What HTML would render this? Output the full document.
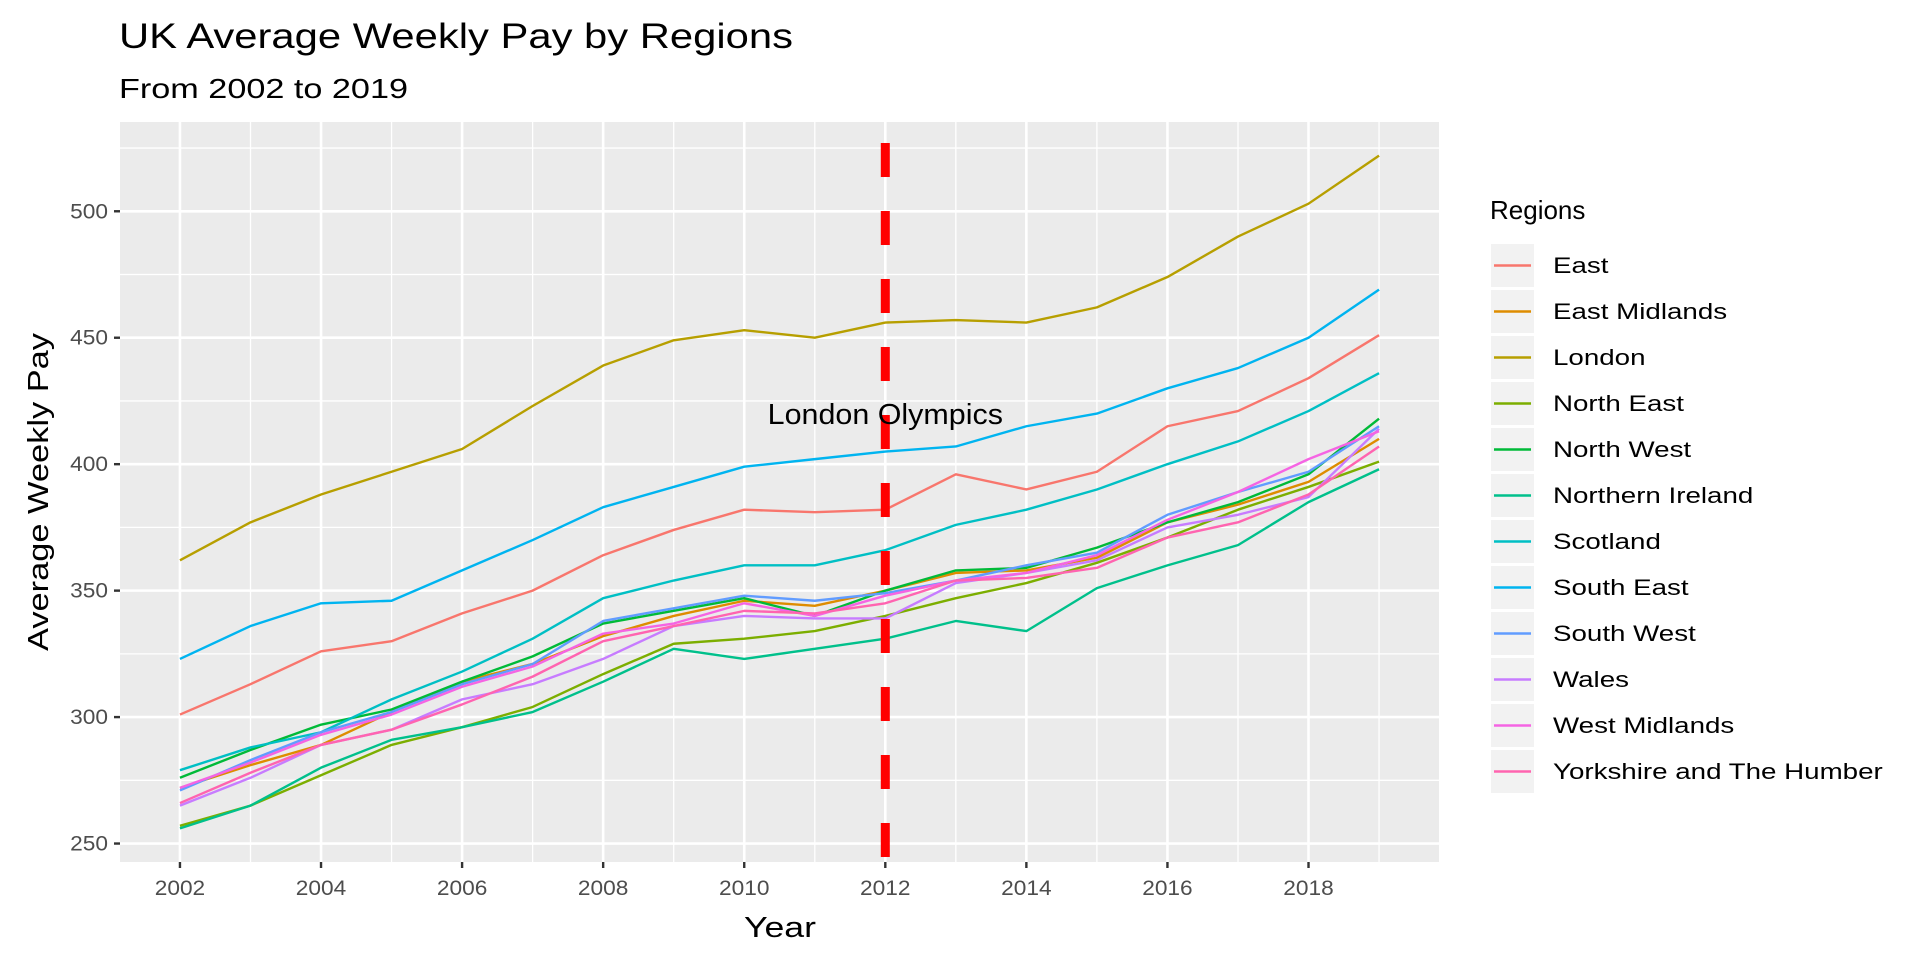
<!DOCTYPE html>
<html><head><meta charset="utf-8"><style>
body{margin:0;background:#fff;font-family:"Liberation Sans",Arial,sans-serif;}
svg text{font-family:"Liberation Sans",Arial,sans-serif;}
</style></head><body>
<svg id="chart" width="1920" height="960" xmlns="http://www.w3.org/2000/svg">
<rect width="1920" height="960" fill="#fff"/>
<text x="119" y="48" font-size="35" fill="#000" textLength="674" lengthAdjust="spacingAndGlyphs">UK Average Weekly Pay by Regions</text>
<text x="119" y="98" font-size="28" fill="#000" textLength="289" lengthAdjust="spacingAndGlyphs">From 2002 to 2019</text>
<rect x="120" y="122" width="1319" height="740" fill="#EBEBEB"/>
<g id="grid"></g>
<g id="series"></g>
<g id="axes"></g>
<text transform="translate(48,492) rotate(-90)" text-anchor="middle" font-size="29" fill="#000" textLength="318" lengthAdjust="spacingAndGlyphs">Average Weekly Pay</text>
<text x="780" y="937" text-anchor="middle" font-size="29" fill="#000" textLength="72" lengthAdjust="spacingAndGlyphs">Year</text>
<g id="legend"></g>
</svg>
<script>
const years = [2002,2003,2004,2005,2006,2007,2008,2009,2010,2011,2012,2013,2014,2015,2016,2017,2018,2019];
const regions = ["East","East Midlands","London","North East","North West","Northern Ireland","Scotland","South East","South West","Wales","West Midlands","Yorkshire and The Humber"];
const colors = ["#F8766D","#DE8C00","#B79F00","#7CAE00","#00BA38","#00C08B","#00BFC4","#00B4F0","#619CFF","#C77CFF","#F564E3","#FF64B0"];
const east = [301,313,326,330,341,350,364,374,382,381,382,396,390,397,415,421,434,451];
const eastMidlands = [272,281,289,302,314,321,332,340,346,344,350,357,358,363,377,384,393,410];
const london = [362,377,388,397,406,423,439,449,453,450,456,457,456,462,474,490,503,522];
const northEast = [257,265,277,289,296,304,317,329,331,334,340,347,353,361,371,382,391,401];
const northWest = [276,287,297,303,314,324,337,342,347,340,350,358,359,367,377,385,396,418];
const northernIreland = [256,265,280,291,296,302,314,327,323,327,331,338,334,351,360,368,385,398];
const scotland = [279,288,294,307,318,331,347,354,360,360,366,376,382,390,400,409,421,436];
const southEast = [323,336,345,346,358,370,383,391,399,402,405,407,415,420,430,438,450,469];
const southWest = [271,283,294,302,313,321,338,343,348,346,349,354,360,365,380,389,397,415];
const wales = [265,276,289,295,307,313,323,336,340,339,339,353,357,362,375,380,387,414];
const westMidlands = [272,282,293,301,312,320,333,337,345,340,348,354,357,364,378,389,402,413];
const yorkshire = [266,278,289,295,305,316,330,336,342,341,345,354,355,359,371,377,388,407];
const yTicks = [250,300,350,400,450,500];
const xTicks = [2002,2004,2006,2008,2010,2012,2014,2016,2018];
const eventYear = 2012;
const eventLabel = "London Olympics";

const seriesData = [east,eastMidlands,london,northEast,northWest,northernIreland,scotland,southEast,southWest,wales,westMidlands,yorkshire];
const NS="http://www.w3.org/2000/svg";
const L=120,R=1439,T=122,B=862;
const xMin=2002-0.85, xMax=2019+0.85;
const allV=seriesData.flat(); const vmin=Math.min(...allV), vmax=Math.max(...allV);
const pad=(vmax-vmin)*0.05; const yMin=vmin-pad, yMax=vmax+pad;
const x=v=>L+(v-xMin)/(xMax-xMin)*(R-L);
const y=v=>B-(v-yMin)/(yMax-yMin)*(B-T);
function mk(tag,attrs,parent){const e=document.createElementNS(NS,tag);for(const k in attrs)e.setAttribute(k,attrs[k]);parent.appendChild(e);return e;}
function stretch(t,f){const w=t.getComputedTextLength();t.setAttribute('textLength',w*f);t.setAttribute('lengthAdjust','spacingAndGlyphs');}
const grid=document.getElementById('grid'),axes=document.getElementById('axes'),ser=document.getElementById('series'),leg=document.getElementById('legend');
for(let i=0;i<yTicks.length+1;i++){const v=yTicks[0]-25+i*50; if(y(v)<T||y(v)>B)continue;
 const g=mk('line',{x1:L,x2:R,y1:y(v),y2:y(v),stroke:'#fff','stroke-width':1.3},grid);
 
 }
for(let i=0;i<xTicks.length+1;i++){const v=xTicks[0]-1+i*2; if(x(v)<L||x(v)>R)continue;
 const g=mk('line',{x1:x(v),x2:x(v),y1:T,y2:B,stroke:'#fff','stroke-width':1.3},grid);
 
 }
yTicks.forEach(v=>{
 const g=mk('line',{x1:L,x2:R,y1:y(v),y2:y(v),stroke:'#fff','stroke-width':2.6},grid);
 
 
 const t=mk('line',{x1:L-6,x2:L,y1:y(v),y2:y(v),stroke:'#333','stroke-width':2.4},axes);
 
 
 const tx=mk('text',{x:L-12,y:y(v)+7,'text-anchor':'end','font-size':21,fill:'#4D4D4D'},axes);
 tx.textContent=v;
 
 
 stretch(tx,1.08);
});
xTicks.forEach(v=>{
 const g=mk('line',{x1:x(v),x2:x(v),y1:T,y2:B,stroke:'#fff','stroke-width':2.6},grid);
 
 
 const t=mk('line',{x1:x(v),x2:x(v),y1:B,y2:B+6,stroke:'#333','stroke-width':2.4},axes);
 
 
 const tx=mk('text',{x:x(v),y:B+33,'text-anchor':'middle','font-size':21,fill:'#4D4D4D'},axes);
 tx.textContent=v;
 
 
 stretch(tx,1.08);
});
seriesData.forEach((d,i)=>{
 const p=mk('polyline',{points:d.map((v,j)=>x(years[j])+','+y(v)).join(' '),fill:'none',stroke:colors[i],'stroke-width':2.4,'stroke-linejoin':'round'},ser);
 
 
});
const vl=mk('line',{x1:x(eventYear),x2:x(eventYear),y1:T+21,y2:B,stroke:'#FF0000','stroke-width':9,'stroke-dasharray':'34 34'},ser);


const el=mk('text',{x:x(eventYear),y:424,'text-anchor':'middle','font-size':29,fill:'#000'},ser);
el.textContent=eventLabel;


stretch(el,1.05);
const lt=mk('text',{x:1490,y:219,'font-size':26,fill:'#000'},leg);
lt.textContent='Regions';


regions.forEach((r,i)=>{
 const top=244+i*46;
 const k=mk('rect',{x:1491,y:top,width:43,height:43,fill:'#F2F2F2'},leg);
 
 
 const ln=mk('line',{x1:1494,x2:1531,y1:top+21.5,y2:top+21.5,stroke:colors[i],'stroke-width':2.4},leg);
 
 
 const t=mk('text',{x:1553,y:top+29,'font-size':22,fill:'#000'},leg);
 t.textContent=r;
 
 
 stretch(t,1.26);
});
</script>
</body></html>
